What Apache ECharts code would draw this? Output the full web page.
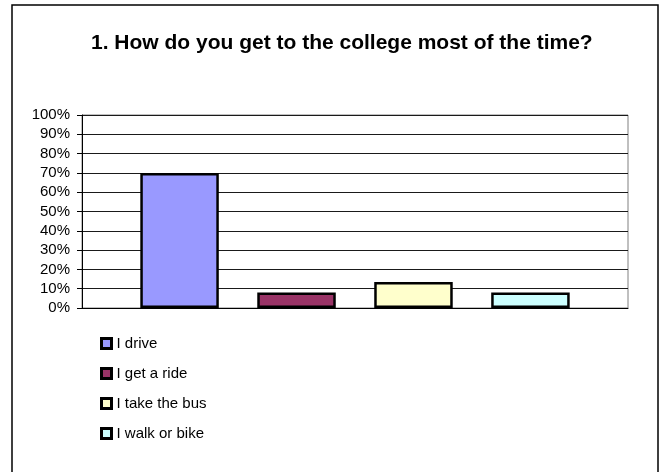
<!DOCTYPE html>
<html>
<head>
<meta charset="utf-8">
<script src="https://cdn.jsdelivr.net/npm/echarts@6/dist/echarts.min.js"></script>
<style>
html,body{margin:0;padding:0;background:#fff;}
#chart{width:663px;height:472px;}
</style>
</head>
<body>
<div id="chart"></div>
<script>
var titleText = '1. How do you get to the college most of the time?';
var categories = [''];
var seriesNames = ['I drive', 'I get a ride', 'I take the bus', 'I walk or bike'];
var seriesValues = [[70], [8], [13.5], [8]];
var seriesColors = ['#9999FF', '#993366', '#FFFFCC', '#CCFFFF'];
var yTicks = [0, 10, 20, 30, 40, 50, 60, 70, 80, 90, 100];

var chart = echarts.init(document.getElementById('chart'), null, {renderer: 'canvas'});
var font = 'Liberation Sans, Arial, sans-serif';

var series = seriesNames.map(function (name, i) {
  return {
    name: name,
    type: 'bar',
    data: seriesValues[i],
    barWidth: 78.5,
    barGap: '49%',
    itemStyle: {color: seriesColors[i], borderColor: '#000', borderWidth: 2.5},
    emphasis: {disabled: true},
    animation: false
  };
});

chart.setOption({
  animation: false,
  backgroundColor: '#fff',
  title: {
    text: titleText,
    left: 91,
    top: 33,
    padding: 0,
    textStyle: {fontFamily: font, fontSize: 21, fontWeight: 'bold', color: '#000'}
  },
  graphic: [{
    type: 'rect',
    shape: {x: 12, y: 5, width: 646, height: 480},
    style: {fill: 'none', stroke: '#000', lineWidth: 1.5},
    silent: true
  }],
  legend: {
    orient: 'vertical',
    left: 100,
    top: 336,
    padding: 0,
    itemWidth: 10,
    itemHeight: 10,
    itemGap: 15,
    icon: 'rect',
    itemStyle: {borderColor: '#000', borderWidth: 3},
    textStyle: {fontFamily: font, fontSize: 15, color: '#000', padding: [0, 0, 0, 0]},
    data: seriesNames
  },
  grid: {
    left: 82, right: 35, top: 115, height: 193,
    show: true, borderColor: '#808080', borderWidth: 1, backgroundColor: 'transparent'
  },
  xAxis: {
    type: 'category',
    data: categories,
    axisLine: {show: true, lineStyle: {color: '#000', width: 1}},
    axisTick: {show: false},
    axisLabel: {show: false},
    splitLine: {show: false}
  },
  yAxis: {
    type: 'value',
    min: yTicks[0],
    max: yTicks[yTicks.length - 1],
    interval: 10,
    axisLine: {show: true, lineStyle: {color: '#000', width: 1}},
    axisTick: {show: true, length: 5, lineStyle: {color: '#000'}},
    axisLabel: {
      margin: 12,
      fontFamily: font, fontSize: 15, color: '#000',
      formatter: function (v) { return v + '%'; }
    },
    splitLine: {show: true, lineStyle: {color: '#1a1a1a', width: 1}}
  },
  series: series
});
</script>
</body>
</html>
